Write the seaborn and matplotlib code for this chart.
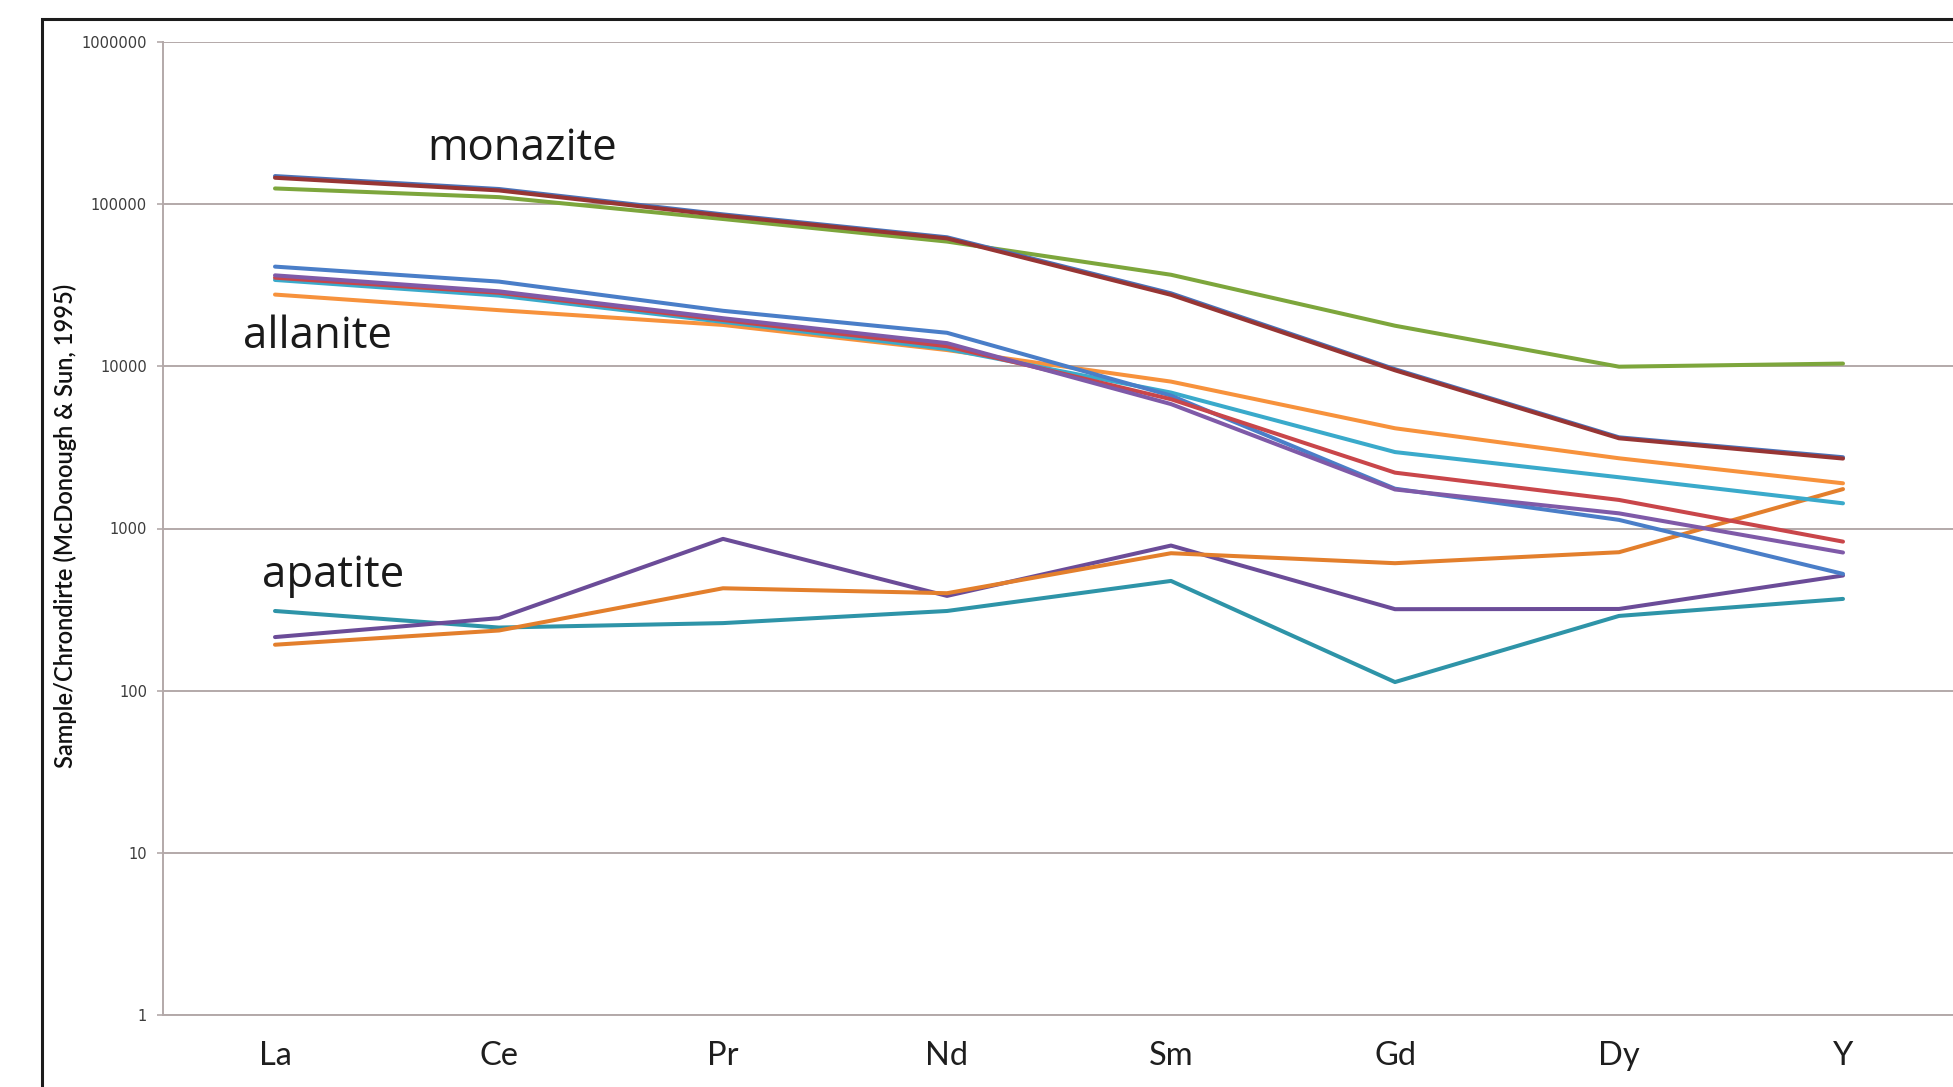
import numpy as np
import pandas as pd
import matplotlib
matplotlib.use("Agg")
import matplotlib.pyplot as plt
import seaborn as sns
from matplotlib.patches import Rectangle
from matplotlib.ticker import FixedLocator, NullLocator

# Chondrite-normalised REE + Y patterns
elements = ["La", "Ce", "Pr", "Nd", "Sm", "Gd", "Dy", "Y"]

# monazite
mnz_1 = [149000, 124000, 86500, 62500, 28200, 9600, 3650, 2750]
mnz_2 = [145500, 121500, 85000, 61500, 27600, 9450, 3600, 2700]
mnz_3 = [125000, 110500, 81000, 58800, 36700, 17800, 9950, 10400]

# allanite
aln_1 = [41200, 33300, 22000, 16100, 6600, 1760, 1130, 525]
aln_2 = [36400, 29000, 19800, 13900, 5850, 1740, 1240, 711]
aln_3 = [35200, 28400, 19300, 13300, 6270, 2210, 1500, 830]
aln_4 = [34100, 27300, 18800, 12800, 6890, 2960, 2070, 1430]
aln_5 = [27700, 22200, 18000, 12600, 8050, 4150, 2710, 1900]

# apatite
ap_1 = [310, 245, 261, 310, 475, 113, 289, 368]
ap_2 = [214, 280, 863, 384, 785, 318, 319, 513]
ap_3 = [192, 235, 428, 399, 704, 611, 714, 1750]

y_ticks = [1, 10, 100, 1000, 10000, 100000, 1000000]
y_tick_labels = ["1", "10", "100", "1000", "10000", "100000", "1000000"]

series = {
    "Ap-1": ap_1, "Ap-2": ap_2, "Ap-3": ap_3,
    "Aln-5": aln_5, "Aln-4": aln_4, "Aln-1": aln_1, "Aln-3": aln_3, "Aln-2": aln_2,
    "Mnz-3": mnz_3, "Mnz-1": mnz_1, "Mnz-2": mnz_2,
}
palette = {
    "Ap-1": "#2E94A8", "Ap-2": "#6B4C98", "Ap-3": "#E37F2C",
    "Aln-1": "#4A7EC8", "Aln-2": "#7F5AA8", "Aln-3": "#C9464A",
    "Aln-4": "#3AAACB", "Aln-5": "#F7923C",
    "Mnz-1": "#4A72B8", "Mnz-2": "#973534", "Mnz-3": "#7DA63C",
}

rows = []
for name, vals in series.items():
    for el, v in zip(elements, vals):
        rows.append({"sample": name, "element": el, "value": v})
df = pd.DataFrame(rows)

sns.set_theme(style="white")
plt.rcParams["font.family"] = ["DejaVu Sans"]

W, H = 1953, 1087
fig = plt.figure(figsize=(W / 100, H / 100), dpi=100)
fig.patch.set_facecolor("white")

ax = fig.add_axes([163 / W, 1 - 1015 / H, (1955 - 163) / W, (1015 - 42) / H])
ax.set_yscale("log")

sns.lineplot(data=df, x="element", y="value", hue="sample",
             hue_order=list(series.keys()), palette=palette,
             sort=False, estimator=None, lw=2.9, legend=False, ax=ax)

ax.set_ylim(1, 1e6)
ax.set_xlim(-0.5, 7.5)
ax.yaxis.set_major_locator(FixedLocator(y_ticks))
ax.yaxis.set_minor_locator(NullLocator())
ax.set_yticklabels(y_tick_labels)
ax.set_xlabel("")
ax.set_ylabel("")

grid_col = "#b3a9a9"
ax.grid(axis="y", color=grid_col, lw=1.4)
ax.grid(axis="x", visible=False)
for side in ["top", "right"]:
    ax.spines[side].set_visible(False)
for side in ["left", "bottom"]:
    ax.spines[side].set_color(grid_col)
    ax.spines[side].set_linewidth(1.4)

ax.tick_params(axis="y", direction="out", length=4.5, width=1.2, color=grid_col,
               labelsize=10.5, labelcolor="#3c3c3c", pad=7, left=True)
ax.tick_params(axis="x", length=0, pad=19, labelsize=23.5, labelcolor="#1e1e1e")
for lab in ax.get_xticklabels():
    lab.set_family("Lato")

fig.text(65 / W, 1 - 526 / H, "Sample/Chrondirte (McDonough & Sun, 1995)",
         rotation=90, ha="center", va="center", family="Lato",
         fontweight="semibold", fontsize=17, color="#111111")

for txt, x, y in [("monazite", 427, 160), ("allanite", 243, 348), ("apatite", 262, 587)]:
    fig.text(x / W, 1 - y / H, txt, ha="left", va="baseline",
             family="Open Sans", fontsize=31.5, color="#1a1a1a")

frame = Rectangle((42 / W, -0.05), 1.2, 1 - 19 / H + 0.05, transform=fig.transFigure,
                  fill=False, ec="#1c1c1c", lw=2.2)
fig.patches.append(frame)

fig.savefig("out.png", dpi=100)
